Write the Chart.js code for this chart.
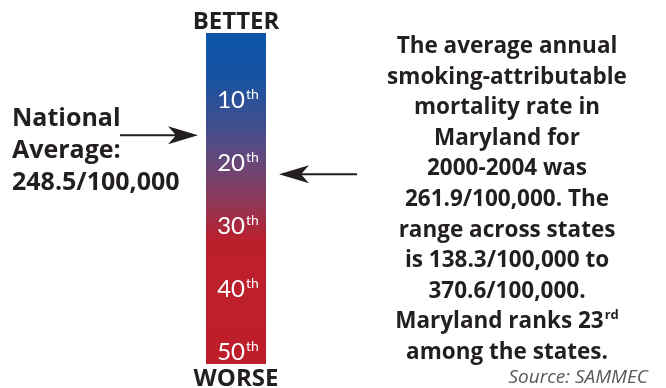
<!DOCTYPE html>
<html>
<head>
<meta charset="utf-8">
<script src="https://cdn.jsdelivr.net/npm/chart.js@4.4.0/dist/chart.umd.min.js"></script>
<style>
  html, body { margin: 0; padding: 0; background: #fff; }
  #wrap { width: 666px; height: 388px; }
</style>
</head>
<body>
<div id="wrap"><canvas id="rankChart" width="666" height="388"></canvas></div>
<script>
// rank scale (1 = best, 50 = worst)
const barLabels = ['Maryland'];
const barExtent = [-0.5, 52];
const tickRanks = [10, 20, 30, 40, 50];
const tickLabels = ['10', '20', '30', '40', '50'];
const tickSuffix = 'th';
const nationalRank = 15.7;
const marylandRank = 21.9;

const leftLines = ['National', 'Average:', '248.5/100,000'];
const rightLines = [
    'The average annual',
    'smoking-attributable',
    'mortality rate in',
    'Maryland for',
    '2000-2004 was',
    '261.9/100,000. The',
    'range across states',
    'is 138.3/100,000 to',
    '370.6/100,000.',
    'Maryland ranks 23',
    'among the states.'
];
const rightSup = { 9: 'rd' };
const sourceText = 'Source: SAMMEC';

const INK = '#231f20';
const FONT = '"Open Sans"';

function barGradient(context) {
    const chart = context.chart;
    const area = chart.chartArea;
    if (!area) return '#0a54a8';
    const g = chart.ctx.createLinearGradient(0, area.top, 0, area.bottom);
    g.addColorStop(0, '#0a54a8');
    g.addColorStop(0.14, '#1953a2');
    g.addColorStop(0.30, '#484d8b');
    g.addColorStop(0.40, '#6a4677');
    g.addColorStop(0.51, '#8e3858');
    g.addColorStop(0.63, '#bc1f2c');
    g.addColorStop(1, '#be1e2a');
    return g;
}

function drawArrow(ctx, tailX, tipX, y) {
    const dir = tipX > tailX ? 1 : -1;
    ctx.save();
    ctx.strokeStyle = INK;
    ctx.fillStyle = INK;
    ctx.lineWidth = 2;
    ctx.beginPath();
    ctx.moveTo(tailX, y);
    ctx.lineTo(tipX - dir * 20, y);
    ctx.stroke();
    ctx.beginPath();
    ctx.moveTo(tipX, y);
    ctx.lineTo(tipX - dir * 30, y - 9);
    ctx.lineTo(tipX - dir * 22, y);
    ctx.lineTo(tipX - dir * 30, y + 9);
    ctx.closePath();
    ctx.fill();
    ctx.restore();
}

function textWithSup(ctx, main, sup, x, y, mainFont, supFont, supRise, align) {
    ctx.font = mainFont;
    const mw = ctx.measureText(main).width;
    ctx.font = supFont;
    const sw = sup ? ctx.measureText(sup).width + 1 : 0;
    let startX = x;
    if (align === 'center') startX = x - (mw + sw) / 2;
    ctx.textAlign = 'left';
    ctx.font = mainFont;
    ctx.fillText(main, startX, y);
    if (sup) {
        ctx.font = supFont;
        ctx.fillText(sup, startX + mw + 1, y - supRise);
    }
}

const labelPlugin = {
    id: 'rankLabels',
    afterDraw(chart) {
        const ctx = chart.ctx;
        const y = chart.scales.y;
        const area = chart.chartArea;
        const cx = (area.left + area.right) / 2;
        ctx.save();
        ctx.textBaseline = 'alphabetic';

        // tick labels inside the bar
        ctx.fillStyle = '#ffffff';
        tickRanks.forEach((r, i) => {
            const py = y.getPixelForValue(r);
            textWithSup(ctx, tickLabels[i], tickSuffix, cx + 2, py + 9,
                '24px Lato', '14px Lato', 9, 'center');
        });

        // end labels
        ctx.fillStyle = INK;
        ctx.font = 'bold 24px ' + FONT;
        ctx.textAlign = 'center';
        ctx.fillText('BETTER', cx, 29);
        ctx.fillText('WORSE', cx, 386);

        // left note
        ctx.textAlign = 'left';
        ctx.font = 'bold 25px ' + FONT;
        leftLines.forEach((t, i) => ctx.fillText(t, 12, 126 + i * 32));

        // right note
        rightLines.forEach((t, i) => {
            textWithSup(ctx, t, rightSup[i], 507, 53 + i * 30.6,
                'bold 22.5px ' + FONT, 'bold 13px ' + FONT, 9, 'center');
        });

        ctx.font = 'italic 19px ' + FONT;
        ctx.fillStyle = '#58595b';
        ctx.textAlign = 'right';
        ctx.fillText(sourceText, 648, 383);
        ctx.restore();

        drawArrow(ctx, 120, area.left - 8, y.getPixelForValue(nationalRank));
        drawArrow(ctx, 357, area.right + 13, y.getPixelForValue(marylandRank));
    }
};

function makeChart() {
    new Chart(document.getElementById('rankChart'), {
        type: 'bar',
        data: {
            labels: barLabels,
            datasets: [{
                data: [barExtent],
                backgroundColor: barGradient,
                borderWidth: 0,
                borderSkipped: false,
                barPercentage: 1,
                categoryPercentage: 1
            }]
        },
        options: {
            responsive: false,
            devicePixelRatio: 1,
            animation: false,
            layout: { padding: { left: 206, right: 400, top: 33, bottom: 24 } },
            scales: {
                x: { display: false },
                y: { display: false, reverse: true, min: -0.5, max: 52 }
            },
            plugins: {
                legend: { display: false },
                tooltip: { enabled: false }
            }
        },
        plugins: [labelPlugin]
    });
}

Promise.all([
    document.fonts.load('bold 22px "Open Sans"'),
    document.fonts.load('italic 19px "Open Sans"'),
    document.fonts.load('24px Lato')
]).then(makeChart, makeChart);
</script>
</body>
</html>
